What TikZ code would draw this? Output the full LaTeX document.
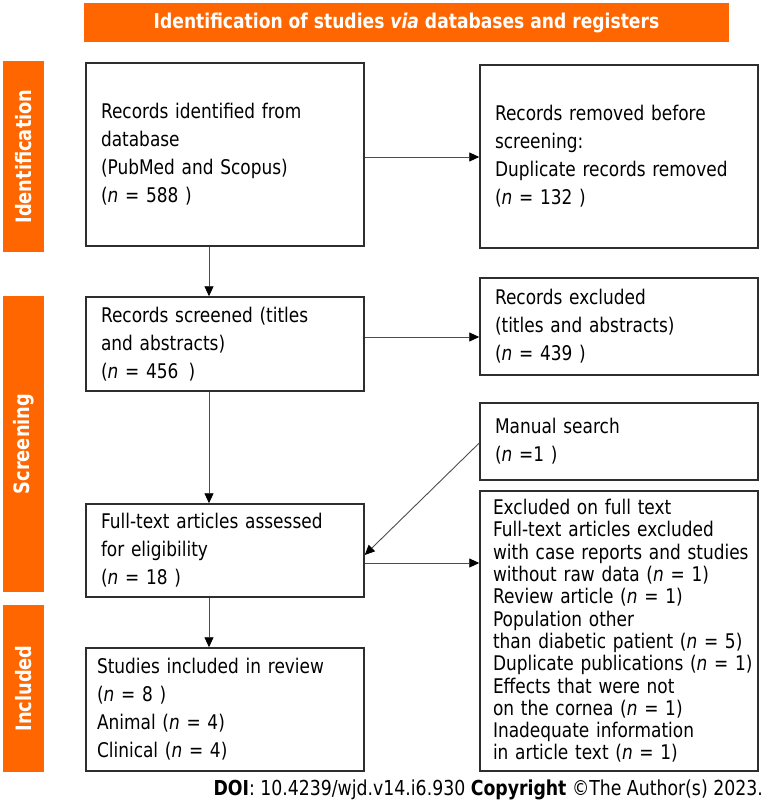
\documentclass[tikz,border=0pt]{standalone}
\usepackage{fontspec}
\setmainfont{DejaVu Sans}[FakeStretch=0.84]
\usetikzlibrary{arrows.meta}
\definecolor{prismaorange}{HTML}{FF6600}
\definecolor{boxline}{HTML}{2E2E2E}
\definecolor{arrline}{HTML}{4D4D4D}
\begin{document}
\begin{tikzpicture}[x=1pt,y=-1pt,
		band/.style={fill=prismaorange,draw=none,text=white,font=\fontsize{20.4}{22}\selectfont\bfseries,inner sep=0pt},
		sideband/.style={band,rotate=90,font=\fontsize{21.2}{23}\selectfont\bfseries},
		stagebox/.style={draw=boxline,line width=1.5pt,minimum width=278pt,align=left,text width=#1,inner xsep=15pt,inner ysep=0pt,font=\fontsize{20.2}{28}\selectfont},
		stagebox/.default=248pt,
		arr/.style={draw=arrline,line width=0.9pt,-{Triangle[length=10pt,width=9pt,color=black]}}]
	\useasboundingbox (0,0) rectangle (768,805);
	\node[band,minimum width=645pt,minimum height=39pt] (title) at (406.5,22.5) {Identification of studies \textit{via} databases and registers};
	\node[sideband,minimum width=191pt,minimum height=41pt] (sidid) at (23.5,156.5) {Identification};
	\node[sideband,minimum width=296pt,minimum height=41pt] (sidscr) at (23.5,444) {Screening};
	\node[sideband,minimum width=167pt,minimum height=41pt] (sidinc) at (23.5,688.5) {Included};
	\node[stagebox,minimum height=183pt] (ident) at (225,154.5) {Records identified from\\database\\(PubMed and Scopus)\\(\textit{n} = 588 )};
	\node[stagebox,minimum height=183pt] (removed) at (619,156.5) {Records removed before\\screening:\\Duplicate records removed\\(\textit{n} = 132 )};
	\node[stagebox,minimum height=94pt] (screened) at (225,344) {Records screened (titles\\and abstracts)\\(\textit{n} = 456\enspace)};
	\node[stagebox,minimum height=97pt] (exclrec) at (619,326.5) {Records excluded\\(titles and abstracts)\\(\textit{n} = 439 )};
	\node[stagebox,minimum height=77pt] (manual) at (619,441.5) {Manual search\\(\textit{n} =1 )};
	\node[stagebox,minimum height=93pt] (fulltext) at (225,550.5) {Full-text articles assessed\\for eligibility\\(\textit{n} = 18 )};
	\node[stagebox=252pt,minimum height=280pt,inner xsep=13pt,font=\fontsize{20.2}{22.3}\selectfont] (exclfull) at (619,631) {Excluded on full text\\Full-text articles excluded\\\mbox{with case reports and studies}\\without raw data (\textit{n} = 1)\\Review article (\textit{n} = 1)\\Population other\\\mbox{than diabetic patient (\textit{n} = 5)}\\\mbox{Duplicate publications (\textit{n} = 1)}\\Effects that were not\\on the cornea (\textit{n} = 1)\\Inadequate information\\in article text (\textit{n} = 1)};
	\node[stagebox=256pt,minimum height=123pt,inner xsep=11pt] (included) at (225,709.5) {Studies included in review\\(\textit{n} = 8 )\\Animal (\textit{n} = 4)\\Clinical (\textit{n} = 4)};
	\node[anchor=east,inner sep=0pt,font=\fontsize{20.6}{22}\selectfont] (doi) at (763,790) {\textbf{DOI}: 10.4239/wjd.v14.i6.930 \textbf{Copyright} ©The Author(s) 2023.};
	\draw[arr] ([xshift=-16pt]ident.south) -- ([xshift=-16pt]screened.north);
	\draw[arr] ([yshift=-2.5pt]ident.east) -- ([yshift=-2.5pt]ident.east -| removed.west);
	\draw[arr] ([xshift=-16pt]screened.south) -- ([xshift=-16pt]fulltext.north);
	\draw[arr] ([yshift=7pt]screened.east) -- ([yshift=7pt]screened.east -| exclrec.west);
	\draw[arr] ([yshift=-1.5pt]manual.west) -- ([yshift=-4.5pt]fulltext.east);
	\draw[arr] ([yshift=-12.5pt]fulltext.east) -- ([yshift=-12.5pt]fulltext.east -| exclfull.west);
	\draw[arr] ([xshift=-16pt]fulltext.south) -- ([xshift=-16pt]included.north);
\end{tikzpicture}
\end{document}
